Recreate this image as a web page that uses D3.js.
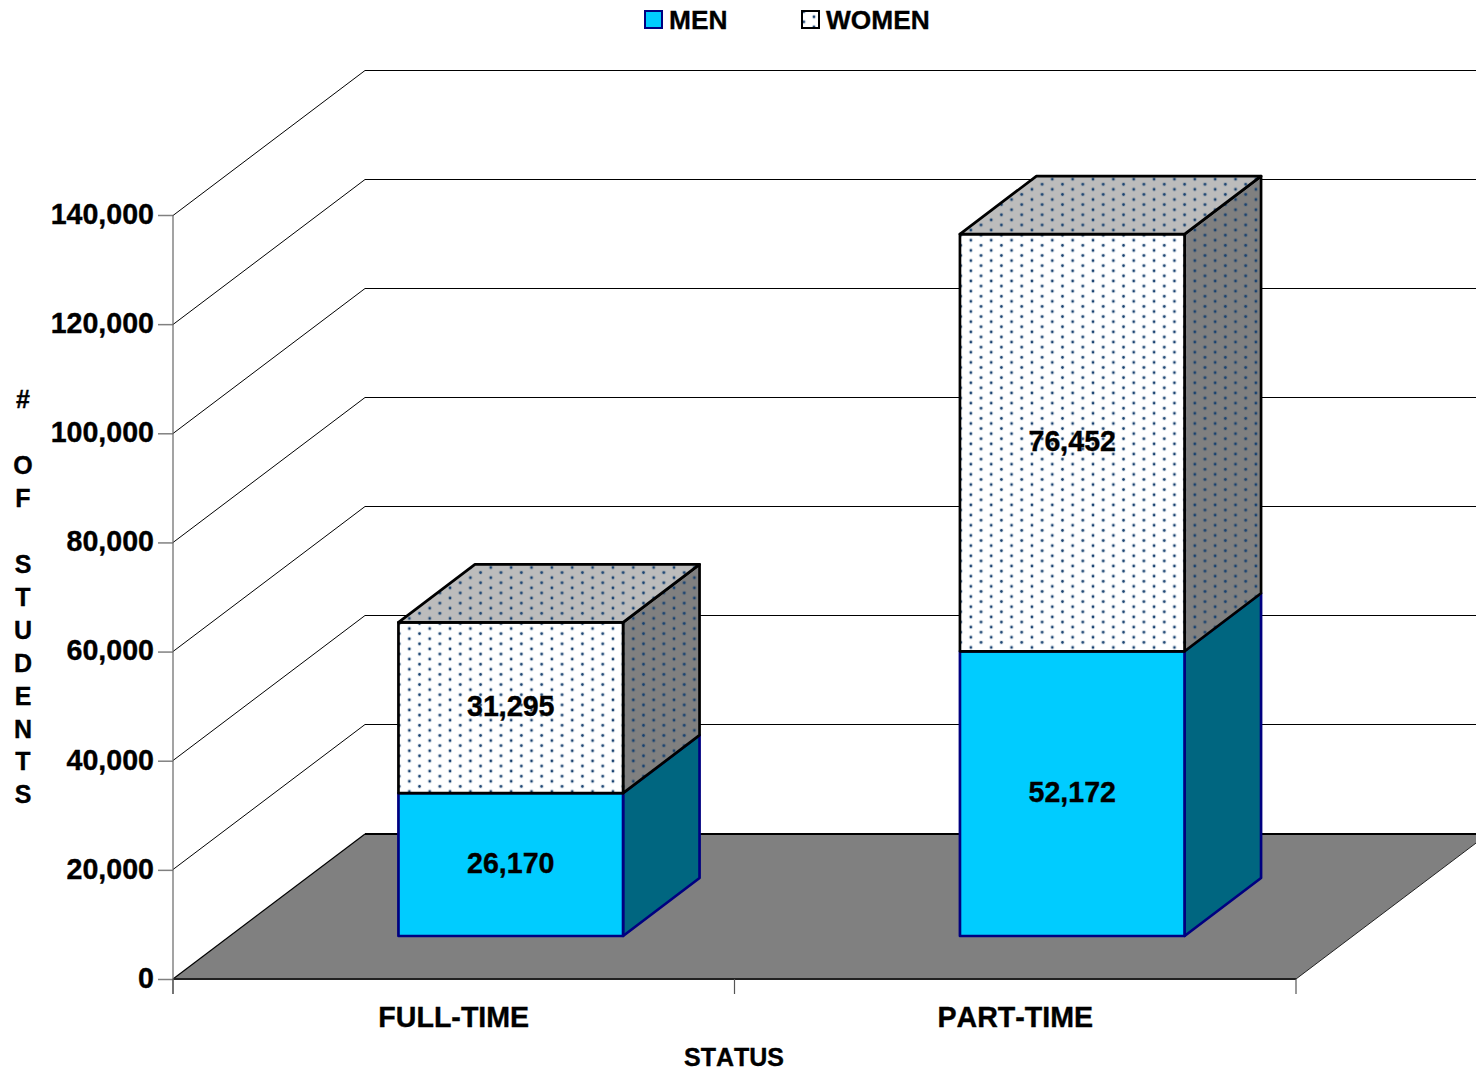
<!DOCTYPE html>
<html>
<head>
<meta charset="utf-8">
<script src="https://d3js.org/d3.v7.min.js"></script>
<style>
  body { margin: 0; background: #fff; }
  svg { display: block; }
  text { font-family: "Liberation Sans", Arial, sans-serif; font-weight: bold; fill: #000; font-kerning: none; stroke: #000; stroke-width: 0.35; }
</style>
</head>
<body>
<svg id="chart"></svg>
<script>
const categories = ["FULL-TIME", "PART-TIME"];
const men = [26170, 52172];
const women = [31295, 76452];
const yTicks = [0, 20000, 40000, 60000, 80000, 100000, 120000, 140000];
const yTitle = ["#", "", "O", "F", "", "S", "T", "U", "D", "E", "N", "T", "S"];

const width = 1476;
const height = 1073;

// 3d offsets: back of the floor, front of the bars, depth of a bar
const wall = {dx: 192, dy: -145};
const inset = {dx: 57, dy: -43};
const depth = {dx: 76.5, dy: -58};

const svg = d3.select("#chart")
    .attr("width", width)
    .attr("height", height);

const x = d3.scaleBand()
    .domain(categories)
    .range([173, 1296])
    .paddingInner(0.6)
    .paddingOuter(0.3);

const y = d3.scaleLinear()
    .domain([0, 140000])
    .range([979, 215]);

const defs = svg.append("defs");
const line = d3.line();
const poly = pts => line(pts) + "Z";

// dotted fill, tile origin is set per bar
function dots(id, bg, ox, oy) {
    const p = defs.append("pattern")
        .attr("id", id)
        .attr("patternUnits", "userSpaceOnUse")
        .attr("x", ox)
        .attr("y", oy)
        .attr("width", 20.36)
        .attr("height", 10.18);
    p.append("rect")
        .attr("width", 20.36)
        .attr("height", 10.18)
        .attr("fill", bg);
    [[0, 0], [10.18, 5.09], [20.36, 0], [0, 10.18], [20.36, 10.18]].forEach(c => {
        p.append("circle").attr("cx", c[0]).attr("cy", c[1]).attr("r", 2.2)
            .attr("fill", "#003366").attr("opacity", 0.12);
        p.append("circle").attr("cx", c[0]).attr("cy", c[1]).attr("r", 1.3)
            .attr("fill", "#17406f");
    });
}

// floor
const x0 = 173, x1 = 1296, y0 = y(0);
svg.append("path")
    .attr("d", poly([[x0, y0], [x1, y0], [x1 + wall.dx, y0 + wall.dy], [x0 + wall.dx, y0 + wall.dy]]))
    .attr("fill", "#808080");
svg.append("path")
    .attr("d", line([[x0, y0], [x0 + wall.dx, y0 + wall.dy]]))
    .attr("fill", "none").attr("stroke", "#000").attr("stroke-width", 1.2);
svg.append("path")
    .attr("d", line([[x1, y0], [x1 + wall.dx, y0 + wall.dy]]))
    .attr("fill", "none").attr("stroke", "#222").attr("stroke-width", 1);
svg.append("path")
    .attr("d", line([[x0 + wall.dx, y0 + wall.dy], [width, y0 + wall.dy]]))
    .attr("fill", "none").attr("stroke", "#000").attr("stroke-width", 2);
svg.append("path")
    .attr("d", line([[x0, y0], [x1, y0]]))
    .attr("fill", "none").attr("stroke", "#222").attr("stroke-width", 2);

// gridlines on the side and back walls
svg.append("g")
    .selectAll("path")
    .data(yTicks.slice(1))
    .enter().append("path")
    .attr("d", d => {
        const yy = Math.floor(y(d)) + 0.5;
        return line([[x0, yy], [x0 + wall.dx, yy + wall.dy], [width, yy + wall.dy]]);
    })
    .attr("fill", "none")
    .attr("stroke", "#000")
    .attr("stroke-width", 1);

// axes
const yAxis = svg.append("g")
    .attr("transform", `translate(${x0}, 0)`)
    .call(d3.axisLeft(y).tickValues(yTicks).tickFormat(d3.format(",")).tickSize(15).tickPadding(4));
yAxis.select(".domain").remove();
yAxis.selectAll("line").attr("stroke", "#808080").attr("stroke-width", 1.5);
yAxis.selectAll("text").attr("font-size", 28.6).attr("dy", "0.29em");

svg.append("line")
    .attr("x1", x0).attr("x2", x0)
    .attr("y1", y(140000)).attr("y2", 994)
    .attr("stroke", "#666").attr("stroke-width", 1.2);

const xAxis = svg.append("g")
    .attr("transform", `translate(0, ${y0})`)
    .call(d3.axisBottom(x).tickSize(0).tickPadding(28));
xAxis.select(".domain").remove();
xAxis.selectAll("text").attr("font-size", 28.6);

svg.append("g")
    .selectAll("line")
    .data([0, 1, 2])
    .enter().append("line")
    .attr("x1", d => x0 + d * x.step())
    .attr("x2", d => x0 + d * x.step())
    .attr("y1", y0)
    .attr("y2", 994)
    .attr("stroke", "#555")
    .attr("stroke-width", 1.2);

// bars
function box(g, px, w, from, to, face, side, top, stroke) {
    const l = px + inset.dx, r = l + w;
    const yb = y(from) + inset.dy, yt = y(to) + inset.dy;
    const dx = depth.dx, dy = depth.dy;
    const parts = [
        {d: poly([[r, yb], [r + dx, yb + dy], [r + dx, yt + dy], [r, yt]]), fill: side},
        {d: poly([[l, yb], [r, yb], [r, yt], [l, yt]]), fill: face}
    ];
    if (top) parts.push({d: poly([[l, yt], [r, yt], [r + dx, yt + dy], [l + dx, yt + dy]]), fill: top});
    g.selectAll(null)
        .data(parts)
        .enter().append("path")
        .attr("d", d => d.d)
        .attr("fill", d => d.fill)
        .attr("stroke", stroke)
        .attr("stroke-width", 2.7)
        .attr("stroke-linejoin", "round");
}

categories.forEach((c, i) => {
    const g = svg.append("g");
    const px = x(c), w = x.bandwidth();
    const total = men[i] + women[i];
    const ox = px + inset.dx + 10.9, oy = y(total) + inset.dy + 6.2;
    dots("face" + i, "#fff", ox, oy);
    dots("side" + i, "#808080", ox, oy);
    dots("top" + i, "#bcbcbc", ox, oy);

    box(g, px, w, 0, men[i], "#00ccff", "#006680", null, "#000080");
    box(g, px, w, men[i], total, `url(#face${i})`, `url(#side${i})`, `url(#top${i})`, "#000");

    g.selectAll(null)
        .data([[0, men[i]], [men[i], women[i]]])
        .enter().append("text")
        .attr("x", px + w / 2 + inset.dx)
        .attr("y", d => (y(d[0]) + y(d[0] + d[1])) / 2 + inset.dy - 2)
        .attr("dy", "0.35em")
        .attr("text-anchor", "middle")
        .attr("font-size", 28.6)
        .text(d => d3.format(",")(d[1]));
});

// titles
svg.append("text")
    .attr("x", 734)
    .attr("y", 1066)
    .attr("text-anchor", "middle")
    .attr("font-size", 25)
    .text("STATUS");

svg.append("g")
    .selectAll("text")
    .data(yTitle)
    .enter().append("text")
    .attr("x", 23)
    .attr("y", (d, i) => 408 + i * 32.95)
    .attr("text-anchor", "middle")
    .attr("font-size", 25)
    .text(d => d);

// legend
dots("legendDots", "#fff", 806, 16);
const legend = [
    {name: "MEN", x: 645, fill: "#00ccff", stroke: "#000080"},
    {name: "WOMEN", x: 802, fill: "url(#legendDots)", stroke: "#000"}
];
const lg = svg.append("g").selectAll("g")
    .data(legend)
    .enter().append("g")
    .attr("transform", d => `translate(${d.x}, 11)`);
lg.append("rect")
    .attr("width", 17)
    .attr("height", 17)
    .attr("fill", d => d.fill)
    .attr("stroke", d => d.stroke)
    .attr("stroke-width", 2);
lg.append("text")
    .attr("x", 24)
    .attr("y", 18)
    .attr("font-size", 26.3)
    .text(d => d.name);
</script>
</body>
</html>
